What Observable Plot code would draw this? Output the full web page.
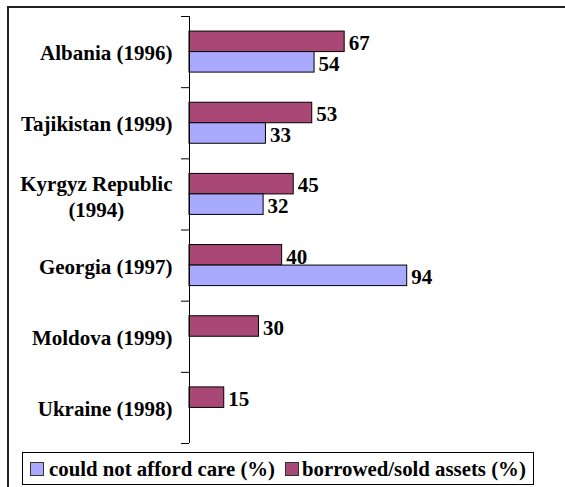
<!DOCTYPE html>
<html>
<head>
<meta charset="utf-8">
<script src="https://cdn.jsdelivr.net/npm/d3@7"></script>
<script src="https://cdn.jsdelivr.net/npm/@observablehq/plot@0.6"></script>
<style>
  html, body { margin: 0; padding: 0; background: #fff; }
  #root { position: relative; width: 565px; height: 487px; overflow: hidden; }
  #frame { position: absolute; left: 7px; top: 6px; width: 700px; height: 600px;
           border-left: 2px solid #222; border-top: 2px solid #222; box-sizing: border-box; }
  #chart { position: absolute; left: 0; top: 0; }
  #legend { position: absolute; left: 22px; top: 452px; width: 512px; height: 33px; box-sizing: border-box;
            border: 1px solid #000; background: #fff; display: flex; align-items: center;
            font-family: 'Liberation Serif'; font-weight: bold;
            font-size: 20.8px; color: #000; white-space: nowrap; }
  .sw { width: 14px; height: 14px; box-sizing: border-box; border: 1px solid #333; flex: none; }
  #chart text, #chart tspan { font-family: 'Liberation Serif' !important; font-weight: bold; }
</style>
</head>
<body>
<div id="root">
  <div id="frame"></div>
  <div id="chart"></div>
  <div id="legend"></div>
</div>
<script>
// ---- data ----
const countries = ["Albania (1996)", "Tajikistan (1999)", "Kyrgyz Republic (1994)", "Georgia (1997)", "Moldova (1999)", "Ukraine (1998)"];
const countryLabels = ["Albania (1996)", "Tajikistan (1999)", "Kyrgyz Republic\n(1994)", "Georgia (1997)", "Moldova (1999)", "Ukraine (1998)"];
const couldNotAfford = [54, 33, 32, 94, null, null];
const borrowedSold = [67, 53, 45, 40, 30, 15];
const seriesNames = ["could not afford care (%)", "borrowed/sold assets (%)"];
const seriesColors = ["#a9a9ff", "#a94876"];

// ---- layout / style ----
const W = 565, H = 450;
const plotTop = 16, plotBottom = 443, plotLeft = 189, marginRight = 144.4;
const barH = 20.5;
const step = (plotBottom - plotTop) / countries.length;
const half = step / 2;
const font = "Liberation Serif";
const fs = 21;

const redRows = countries.map((c, i) => ({country: c, value: borrowedSold[i]})).filter(d => d.value != null);
const blueRows = countries.map((c, i) => ({country: c, value: couldNotAfford[i]})).filter(d => d.value != null);

const labelOf = new Map(countries.map((c, i) => [c, countryLabels[i]]));
const single = countries.filter(c => !labelOf.get(c).includes("\n"));
const multi = countries.filter(c => labelOf.get(c).includes("\n"));

// measure longest line of the multi-line label so it can be centred like the original
const ctx = document.createElement("canvas").getContext("2d");
ctx.font = `bold ${fs}px "${font}"`;
const multiW = multi.length ? Math.max(...labelOf.get(multi[0]).split("\n").map(s => ctx.measureText(s).width)) : 0;

const txt = {fontFamily: font, fontWeight: "bold", fontSize: fs, fill: "#000"};

const chart = Plot.plot({
  width: W, height: H,
  marginTop: plotTop, marginBottom: H - plotBottom, marginLeft: plotLeft, marginRight,
  style: {background: "transparent", overflow: "visible", fontFamily: font},
  x: {domain: [0, 100], axis: null},
  y: {domain: countries, padding: 0, round: false, axis: null},
  marks: [
    Plot.barX(redRows, {y: "country", x: "value", fill: seriesColors[1], stroke: "#000", strokeWidth: 1,
      insetTop: half - barH, insetBottom: half}),
    Plot.barX(blueRows, {y: "country", x: "value", fill: seriesColors[0], stroke: "#000", strokeWidth: 1,
      insetTop: half, insetBottom: half - barH}),
    Plot.text(redRows, {y: "country", x: "value", text: d => String(d.value), textAnchor: "start",
      dx: 4, dy: -barH / 2 + 1.5, ...txt}),
    Plot.text(blueRows, {y: "country", x: "value", text: d => String(d.value), textAnchor: "start",
      dx: 4, dy: barH / 2 + 1.5, ...txt}),
    Plot.ruleX([0], {stroke: "#000", strokeWidth: 1}),
    Plot.ruleY(countries, {y: d => d, x1: 0, x2: 0, insetLeft: -8, dy: -half, stroke: "#000"}),
    Plot.ruleY([countries[countries.length - 1]], {y: d => d, x1: 0, x2: 0, insetLeft: -8, dy: half, stroke: "#000"}),
    Plot.text(single, {y: d => d, text: d => labelOf.get(d), frameAnchor: "left", textAnchor: "end",
      dx: -17, dy: 1.5, ...txt}),
    Plot.text(multi, {y: d => d, text: d => labelOf.get(d), frameAnchor: "left", textAnchor: "middle",
      dx: -17 - multiW / 2, dy: 1.5, lineHeight: 1.24, ...txt})
  ]
});
document.getElementById("chart").appendChild(chart);

// ---- legend ----
const legend = d3.select("#legend");
seriesNames.forEach((name, i) => {
  legend.append("div").attr("class", "sw")
    .style("background", seriesColors[i])
    .style("margin-left", i === 0 ? "7px" : "10px");
  legend.append("span").text(name).style("margin-left", i === 0 ? "5px" : "3px");
});
</script>
</body>
</html>
